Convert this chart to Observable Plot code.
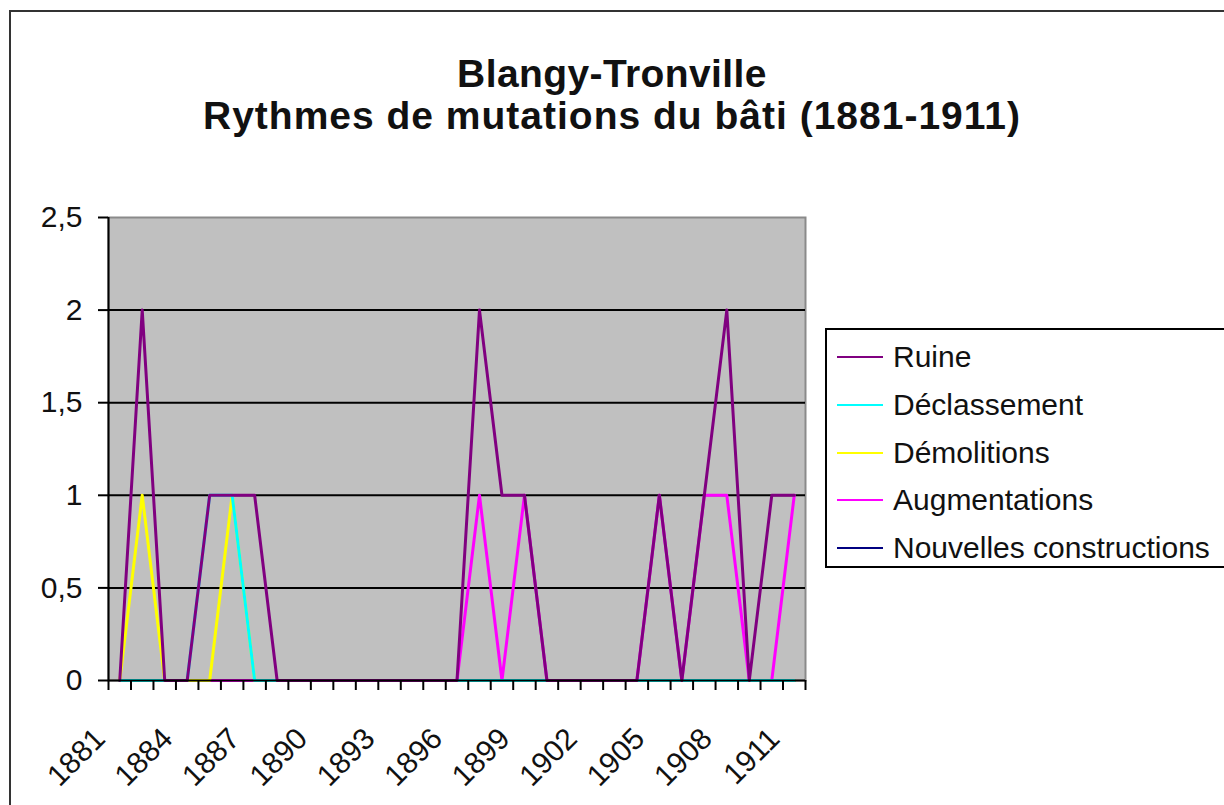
<!DOCTYPE html>
<html>
<head>
<meta charset="utf-8">
<script src="https://cdn.jsdelivr.net/npm/d3@7"></script>
<script src="https://cdn.jsdelivr.net/npm/@observablehq/plot@0.6"></script>
<style>
html, body { margin: 0; padding: 0; background: #fff; overflow: hidden; }
#page { position: relative; width: 1224px; height: 805px; overflow: hidden; font-family: "Liberation Sans", Arial, sans-serif; color: #111; background: #fff; }
#border { position: absolute; left: 9px; top: 10px; width: 1300px; height: 900px; border: 2px solid #333; box-sizing: border-box; }
#title { position: relative; height: 150px; text-align: center; font-weight: bold; font-size: 39px; line-height: 42px; padding-top: 53px; box-sizing: border-box; }
#title .l1 { letter-spacing: 0.4px; }
#title .l2 { letter-spacing: 1px; }
#chart { position: relative; height: 655px; }
#chart svg { display: block; }
#legend { position: absolute; left: 825px; top: 328px; width: 420px; height: 240px; border: 2px solid #000; background: #fff; box-sizing: border-box; }
.item { position: absolute; left: 0; height: 48px; display: flex; align-items: center; font-size: 30px; white-space: nowrap; }
.swatch { width: 46px; height: 0; border-top: 2px solid; margin-left: 10px; margin-right: 10px; }
</style>
</head>
<body>
<div id="page">
  <div id="border"></div>
  <div id="title"><div class="l1">Blangy-Tronville</div><div class="l2">Rythmes de mutations du bâti (1881-1911)</div></div>
  <div id="chart"></div>
  <div id="legend"></div>
</div>
<script>
// Categories
const years = [1881, 1882, 1883, 1884, 1885, 1886, 1887, 1888, 1889, 1890,
               1891, 1892, 1893, 1894, 1895, 1896, 1897, 1898, 1899, 1900,
               1901, 1902, 1903, 1904, 1905, 1906, 1907, 1908, 1909, 1910, 1911];
const labelYears = [1881, 1884, 1887, 1890, 1893, 1896, 1899, 1902, 1905, 1908, 1911];
const yTicks = [0, 0.5, 1, 1.5, 2, 2.5];
const gridValues = [0.5, 1, 1.5, 2];

// Series
const seriesNames = ["Ruine", "Déclassement", "Démolitions", "Augmentations", "Nouvelles constructions"];
const seriesColors = ["#800080", "#00ffff", "#ffff00", "#ff00ff", "#000080"];
const ruine =         [0, 2, 0, 0, 1, 1, 1, 0, 0, 0, 0, 0, 0, 0, 0, 0, 2, 1, 1, 0, 0, 0, 0, 0, 1, 0, 1, 2, 0, 1, 1];
const declassement =  [0, 0, 0, 0, 1, 1, 0, 0, 0, 0, 0, 0, 0, 0, 0, 0, 0, 0, 0, 0, 0, 0, 0, 0, 0, 0, 0, 0, 0, 0, 0];
const demolitions =   [0, 1, 0, 0, 0, 1, 0, 0, 0, 0, 0, 0, 0, 0, 0, 0, 0, 0, 0, 0, 0, 0, 0, 0, 0, 0, 0, 0, 0, 0, 0];
const augmentations = [0, 0, 0, 0, 0, 0, 0, 0, 0, 0, 0, 0, 0, 0, 0, 0, 1, 0, 1, 0, 0, 0, 0, 0, 1, 0, 1, 1, 0, 0, 1];
const nouvelles =     [0, 0, 0, 0, 0, 0, 0, 0, 0, 0, 0, 0, 0, 0, 0, 0, 0, 0, 0, 0, 0, 0, 0, 0, 0, 0, 0, 0, 0, 0, 0];
const seriesValues = [ruine, declassement, demolitions, augmentations, nouvelles];

const rows = seriesNames.flatMap((name, s) =>
  years.map((year, i) => ({series: name, year, value: seriesValues[s][i]})));

// category boundaries for tick marks
const boundaries = years.map(y => y - 0.5).concat([years[years.length - 1] + 0.5]);
const drawOrder = [4, 3, 2, 1, 0];

const chart = Plot.plot({
  width: 1224,
  height: 655,
  marginLeft: 108,
  marginRight: 419,
  marginTop: 67,
  marginBottom: 125,
  x: {type: "linear", domain: [years[0] - 0.5, years[years.length - 1] + 0.5]},
  y: {domain: [0, 2.5]},
  style: {fontFamily: "'Liberation Sans', Arial, sans-serif", fontSize: "30px", background: "transparent", overflow: "visible", color: "#111"},
  marks: [
    Plot.frame({fill: "#c0c0c0", stroke: "#8a8a8a", strokeWidth: 2}),
    Plot.ruleY(gridValues, {stroke: "#000", strokeWidth: 2}),
    ...drawOrder.map(s => Plot.line(rows.filter(r => r.series === seriesNames[s]), {
      x: "year", y: "value", stroke: seriesColors[s], strokeWidth: 3
    })),
    Plot.ruleY([0], {stroke: "#000", strokeWidth: 2}),
    Plot.ruleX([years[0] - 0.5], {stroke: "#000", strokeWidth: 2}),
    Plot.axisY({ticks: yTicks, tickSize: 10, tickPadding: 16, tickFormat: d => String(d).replace(".", ","),
                stroke: "#000", strokeWidth: 2, fill: "#111", fontSize: 30, label: null}),
    Plot.axisX({ticks: boundaries, tickSize: 10, tickFormat: () => "", stroke: "#000", strokeWidth: 2, label: null}),
    Plot.text(labelYears, {x: d => d, y: () => 0, text: d => String(d), rotate: -45,
                           textAnchor: "end", lineAnchor: "bottom", dx: -13, dy: 60, fill: "#111", fontSize: 30})
  ]
});
document.getElementById("chart").appendChild(chart);

// Legend
const legend = document.getElementById("legend");
seriesNames.forEach((name, i) => {
  const item = document.createElement("div");
  item.className = "item";
  item.style.top = (3 + 47.8 * i) + "px";
  const sw = document.createElement("span");
  sw.className = "swatch";
  sw.style.borderTopColor = seriesColors[i];
  const tx = document.createElement("span");
  tx.textContent = name;
  item.appendChild(sw);
  item.appendChild(tx);
  legend.appendChild(item);
});
</script>
</body>
</html>
